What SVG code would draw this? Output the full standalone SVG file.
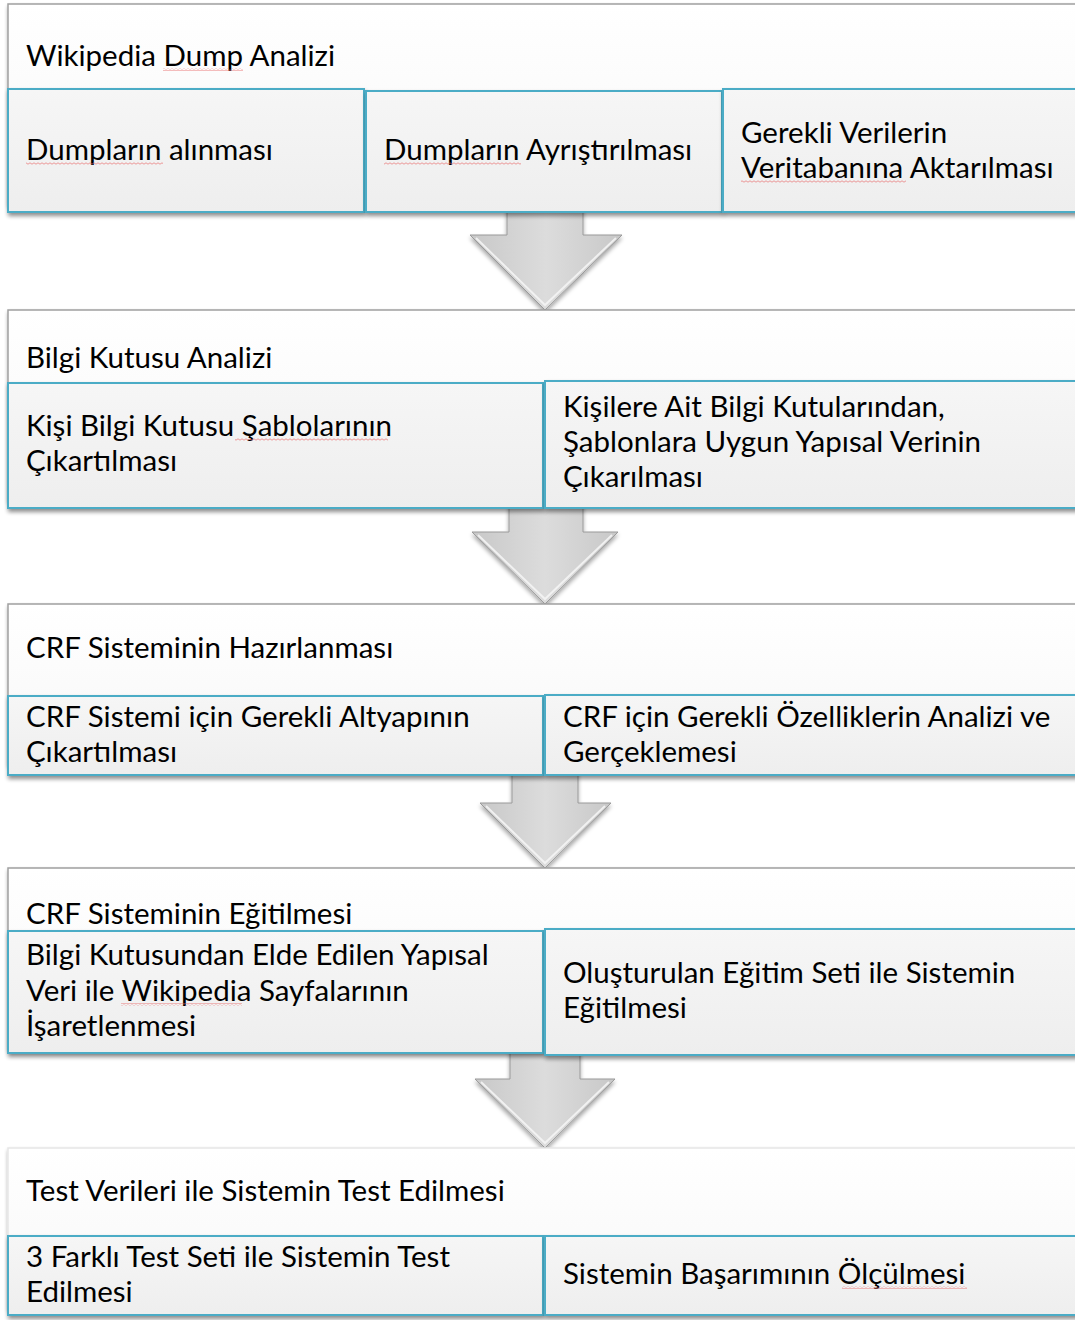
<svg xmlns="http://www.w3.org/2000/svg" width="1075" height="1320" viewBox="0 0 1075 1320">
<defs>
<linearGradient id="subFill" x1="0" y1="0" x2="0" y2="1">
<stop offset="0" stop-color="#f6f6f6"/>
<stop offset="1" stop-color="#eeeeee"/>
</linearGradient>
<linearGradient id="outerFill" x1="0" y1="0" x2="0" y2="1">
<stop offset="0" stop-color="#ffffff"/>
<stop offset="1" stop-color="#f7f7f7"/>
</linearGradient>
<linearGradient id="arrowFill" x1="0" y1="0" x2="1" y2="0">
<stop offset="0" stop-color="#c8c8c8"/>
<stop offset="0.5" stop-color="#dcdcdc"/>
<stop offset="1" stop-color="#c8c8c8"/>
</linearGradient>
<pattern id="wave" x="0" y="0" width="4" height="3" patternUnits="userSpaceOnUse">
<path d="M0,2.2 L2,0.8 L4,2.2" fill="none" stroke="#e86a6a" stroke-width="0.9"/>
</pattern>
<filter id="shadow" x="-5%" y="-10%" width="115%" height="130%">
<feGaussianBlur in="SourceAlpha" stdDeviation="2"/>
<feOffset dx="1" dy="3" result="b"/>
<feComponentTransfer><feFuncA type="linear" slope="0.45"/></feComponentTransfer>
<feMerge><feMergeNode/><feMergeNode in="SourceGraphic"/></feMerge>
</filter>
<filter id="ashadow" x="-20%" y="-20%" width="140%" height="140%">
<feGaussianBlur in="SourceAlpha" stdDeviation="2"/>
<feOffset dx="0" dy="3" result="b"/>
<feComponentTransfer><feFuncA type="linear" slope="0.35"/></feComponentTransfer>
<feMerge><feMergeNode/><feMergeNode in="SourceGraphic"/></feMerge>
</filter>
</defs>
<style>
.outer{fill:url(#outerFill);stroke:#a0a0a0;stroke-width:1.5;filter:url(#shadow)}
.sub{fill:url(#subFill);stroke:#4bacc6;stroke-width:2;filter:url(#shadow)}
.t{font-family:Lato,"Open Sans","Liberation Sans",sans-serif;font-size:29.5px;fill:#000}
.arrow{fill:url(#arrowFill);stroke:#9a9a9a;stroke-width:1;filter:url(#ashadow)}
.bevel{fill:none;stroke:#f4f4f4;stroke-width:2;opacity:0.9}
.sq{fill:url(#wave);opacity:0.75}
</style>
<rect width="1075" height="1320" fill="#ffffff"/>

<g id="connectors">
<g id="arrow1">
<polygon class="arrow" points="507,205 583,205 583,235 622,235 545,310 470,235 507,235"/>
<polyline class="bevel" points="476,238 545,305 616,238"/>
</g>
<g id="arrow2">
<polygon class="arrow" points="509,500 583,500 583,532 618,532 545,604 472,532 509,532"/>
<polyline class="bevel" points="478,535 545,599 612,535"/>
</g>
<g id="arrow3">
<polygon class="arrow" points="512,768 578,768 578,803 611,803 545,868 480,803 512,803"/>
<polyline class="bevel" points="486,806 545,863 605,806"/>
</g>
<g id="arrow4">
<polygon class="arrow" points="510,1046 580,1046 580,1079 615,1079 545,1148 475,1079 510,1079"/>
<polyline class="bevel" points="481,1082 545,1143 609,1082"/>
</g>
</g>

<g id="section1">
<rect class="outer" x="8" y="4" width="1080" height="200"/>
<text class="t" x="26" y="66">Wikipedia Dump Analizi</text>
<rect class="sq" x="163" y="68" width="80" height="3"/>
</g>
<g id="s1-box1">
<rect class="sub" x="8" y="89" width="356" height="123"/>
<text class="t" x="26" y="160">Dumpların alınması</text>
<rect class="sq" x="26" y="162" width="137" height="3"/>
</g>
<g id="s1-box2">
<rect class="sub" x="366" y="91" width="356" height="121"/>
<text class="t" x="384" y="160">Dumpların Ayrıştırılması</text>
<rect class="sq" x="384" y="162" width="137" height="3"/>
</g>
<g id="s1-box3">
<rect class="sub" x="723" y="89" width="365" height="123"/>
<text class="t" x="741" y="143">Gerekli Verilerin</text>
<text class="t" x="741" y="178">Veritabanına Aktarılması</text>
<rect class="sq" x="741" y="180" width="165" height="3"/>
</g>

<g id="section2">
<rect class="outer" x="8" y="310" width="1080" height="190"/>
<text class="t" x="26" y="368">Bilgi Kutusu Analizi</text>
</g>
<g id="s2-box1">
<rect class="sub" x="8" y="383" width="535" height="125"/>
<text class="t" x="26" y="436">Kişi Bilgi Kutusu Şablolarının</text>
<text class="t" x="26" y="471">Çıkartılması</text>
<rect class="sq" x="235" y="438" width="153" height="3"/>
</g>
<g id="s2-box2">
<rect class="sub" x="545" y="381" width="543" height="127"/>
<text class="t" x="563" y="417">Kişilere Ait Bilgi Kutularından,</text>
<text class="t" x="563" y="452">Şablonlara Uygun Yapısal Verinin</text>
<text class="t" x="563" y="487">Çıkarılması</text>
</g>

<g id="section3">
<rect class="outer" x="8" y="604" width="1080" height="160"/>
<text class="t" x="26" y="658">CRF Sisteminin Hazırlanması</text>
</g>
<g id="s3-box1">
<rect class="sub" x="8" y="696" width="535" height="79"/>
<text class="t" x="26" y="727">CRF Sistemi için Gerekli Altyapının</text>
<text class="t" x="26" y="762">Çıkartılması</text>
</g>
<g id="s3-box2">
<rect class="sub" x="545" y="695" width="543" height="80"/>
<text class="t" x="563" y="727">CRF için Gerekli Özelliklerin Analizi ve</text>
<text class="t" x="563" y="762">Gerçeklemesi</text>
</g>

<g id="section4">
<rect class="outer" x="8" y="868" width="1080" height="180"/>
<text class="t" x="26" y="924">CRF Sisteminin Eğitilmesi</text>
</g>
<g id="s4-box1">
<rect class="sub" x="8" y="931" width="535" height="122"/>
<text class="t" x="26" y="965">Bilgi Kutusundan Elde Edilen Yapısal</text>
<text class="t" x="26" y="1001">Veri ile Wikipedia Sayfalarının</text>
<text class="t" x="26" y="1036">İşaretlenmesi</text>
<rect class="sq" x="121" y="1003" width="121" height="3"/>
</g>
<g id="s4-box2">
<rect class="sub" x="545" y="929" width="543" height="126"/>
<text class="t" x="563" y="983">Oluşturulan Eğitim Seti ile Sistemin</text>
<text class="t" x="563" y="1018">Eğitilmesi</text>
</g>

<g id="section5">
<rect class="outer" x="8" y="1148" width="1080" height="160" style="stroke:#e6e6e6"/>
<text class="t" x="26" y="1201">Test Verileri ile Sistemin Test Edilmesi</text>
</g>
<g id="s5-box1">
<rect class="sub" x="8" y="1236" width="535" height="79"/>
<text class="t" x="26" y="1267">3 Farklı Test Seti ile Sistemin Test</text>
<text class="t" x="26" y="1302">Edilmesi</text>
</g>
<g id="s5-box2">
<rect class="sub" x="545" y="1236" width="543" height="79"/>
<text class="t" x="563" y="1284">Sistemin Başarımının Ölçülmesi</text>
<rect class="sq" x="842" y="1286" width="125" height="3"/>
</g>
</svg>
